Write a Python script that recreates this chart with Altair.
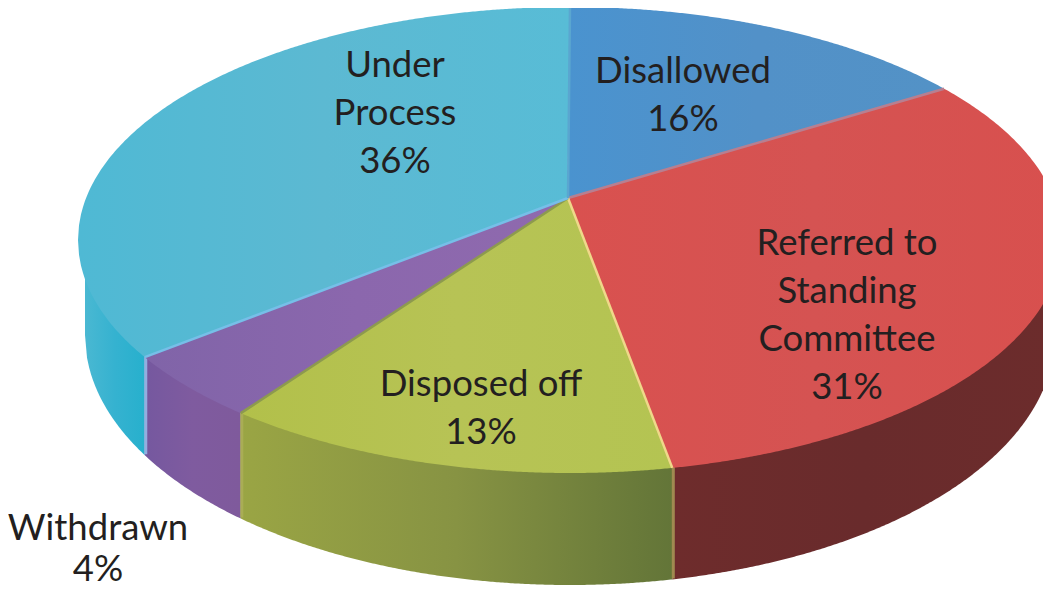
import numpy as np
import pandas as pd
import altair as alt

# Slices, clockwise from the top of the pie
names = ["Disallowed", "Referred to Standing Committee", "Disposed off", "Withdrawn", "Under Process"]
shares = [16, 31, 13, 4, 36]
label_lines = [["Disallowed"], ["Referred to", "Standing", "Committee"], ["Disposed off"], ["Withdrawn"], ["Under", "Process"]]
# Slice edges on the tilted rim (degrees around the ellipse)
edge_deg = [-90.0, -40.5, 78.0, 132.0, 149.8, 270.0]

top_colors = [
    ["#4a93cf", "#5291c8", "#5392c6"],
    ["#d9514f", "#d55352", "#d8504e"],
    ["#b2c04a", "#b7c355", "#b4c452"],
    ["#8064a8", "#8b67ad", "#8f6aae"],
    ["#4fb9d4", "#5cb9d2", "#58bcd6"],
]
wall_colors = [
    ["#4a7fb0", "#4a7fb0", "#4a7fb0"],
    ["#6e2c2c", "#692b2c", "#6c2c2c"],
    ["#9aa544", "#879343", "#637538"],
    ["#75589f", "#7f5b9f", "#7f5a9c"],
    ["#4ab8d2", "#35b2d0", "#27b0cd"],
]
divider_colors = ["#b87f90", "#f0d88a", "#8d9a4e", "#76bfe8", "#5aa6d0"]
wall_divider_colors = ["#a08a50", "#a9ad55", "#92aee0"]

# Geometry of the pie in the picture's pixels
CX, CY, A, B = 570.0, 240.0, 492.0, 233.0
AX, AY = 568.0, 198.0
LOW_Y, LOW_A, LOW_B = 335.0, 485.0, 250.0
XMIN, XMAX, YMIN, YMAX = 8, 1043, 8, 588

sx = alt.Scale(domain=[XMIN, XMAX], nice=False, zero=False)
sy = alt.Scale(domain=[YMAX, YMIN], nice=False, zero=False)


def rim(deg):
    t = np.radians(deg)
    return CX + A * np.cos(t), CY + B * np.sin(t)


def low_edge(x):
    return LOW_Y + LOW_B * np.sqrt(np.clip(1 - ((x - CX) / LOW_A) ** 2, 0, 1))


def envelope(px, py):
    xs = np.unique(np.concatenate([np.arange(np.ceil(px.min()), px.max(), 2.0), [px.min(), px.max()]]))
    rows = []
    x0, y0 = px, py
    x1, y1 = np.roll(px, -1), np.roll(py, -1)
    for x in xs:
        m = (np.minimum(x0, x1) <= x) & (x <= np.maximum(x0, x1)) & (x0 != x1)
        ys = y0[m] + (x - x0[m]) * (y1[m] - y0[m]) / (x1[m] - x0[m])
        if len(ys):
            rows.append({"x": float(x), "y": float(ys.min()), "y2": float(ys.max())})
    return pd.DataFrame(rows)


def grad(stops):
    n = len(stops) - 1
    return alt.Gradient(
        gradient="linear", x1=0, x2=1, y1=0, y2=0,
        stops=[alt.GradientStop(color=c, offset=i / n) for i, c in enumerate(stops)],
    )


def band(df, stops):
    return alt.Chart(df).mark_area(color=grad(stops), interpolate="linear", clip=True).encode(
        x=alt.X("x:Q", scale=sx, axis=None),
        y=alt.Y("y:Q", scale=sy, axis=None),
        y2="y2:Q",
    )


def seg(x, y, color, width):
    df = pd.DataFrame({"x": x, "y": y, "o": range(len(x))})
    return alt.Chart(df).mark_line(color=color, strokeWidth=width, clip=True).encode(
        x=alt.X("x:Q", scale=sx, axis=None),
        y=alt.Y("y:Q", scale=sy, axis=None),
        order="o:Q",
    )


layers = []

# Side wall: only the three front slices and the two that wrap round are visible
wall_stops = [x for x in (rim(edge_deg[2])[0], rim(edge_deg[3])[0], rim(edge_deg[4])[0])]
wall_ranges = {
    1: (wall_stops[0], XMAX + 12),
    2: (wall_stops[1], wall_stops[0]),
    3: (wall_stops[2], wall_stops[1]),
    4: (CX - LOW_A, wall_stops[2]),
}
for i, (a, b) in wall_ranges.items():
    xs = np.append(np.arange(a, b, 2.0), b)
    df = pd.DataFrame({"x": xs, "y": CY, "y2": low_edge(xs)})
    layers.append(band(df, wall_colors[i]))

# Dividers on the wall
for x, c in zip(wall_stops, wall_divider_colors):
    layers.append(seg([x + 1, x + 1], [CY, float(low_edge(x)) - 1], c, 3))

# Top face
for i in range(len(shares)):
    t = np.linspace(edge_deg[i], edge_deg[i + 1], 240)
    ex, ey = rim(t)
    px = np.concatenate([[AX], ex])
    py = np.concatenate([[AY], ey])
    layers.append(band(envelope(px, py), top_colors[i]))

# Lines between slices
for i, c in enumerate(divider_colors):
    ex, ey = rim(edge_deg[i + 1])
    layers.append(seg([AX, float(ex)], [AY, float(ey)], c, 2.5))

# Labels
label_anchor = [(683, 83), (847, 255), (481, 396), (98, 540), (395, 77)]
LEADING = 48
SHORT_LEADING = 41
rows = []
for idx, (lines, share, (ax, ay)) in enumerate(zip(label_lines, shares, label_anchor)):
    lead = SHORT_LEADING if names[idx] == "Withdrawn" else LEADING
    for k, text in enumerate(list(lines) + [f"{share}%"]):
        rows.append({"x": ax, "y": ay + k * lead, "text": text})
labels = pd.DataFrame(rows)
layers.append(
    alt.Chart(labels).mark_text(
        font="Lato", fontSize=36.5, color="#231f20", align="center", baseline="alphabetic"
    ).encode(
        x=alt.X("x:Q", scale=sx, axis=None),
        y=alt.Y("y:Q", scale=sy, axis=None),
        text="text:N",
    )
)

chart = alt.layer(*layers).properties(
    width=XMAX - XMIN,
    height=YMAX - YMIN,
    padding=0,
    autosize=alt.AutoSizeParams(type="none"),
    background="white",
).configure_view(stroke=None)

chart.save("out.html", embed_options={"renderer": "svg", "actions": False})
